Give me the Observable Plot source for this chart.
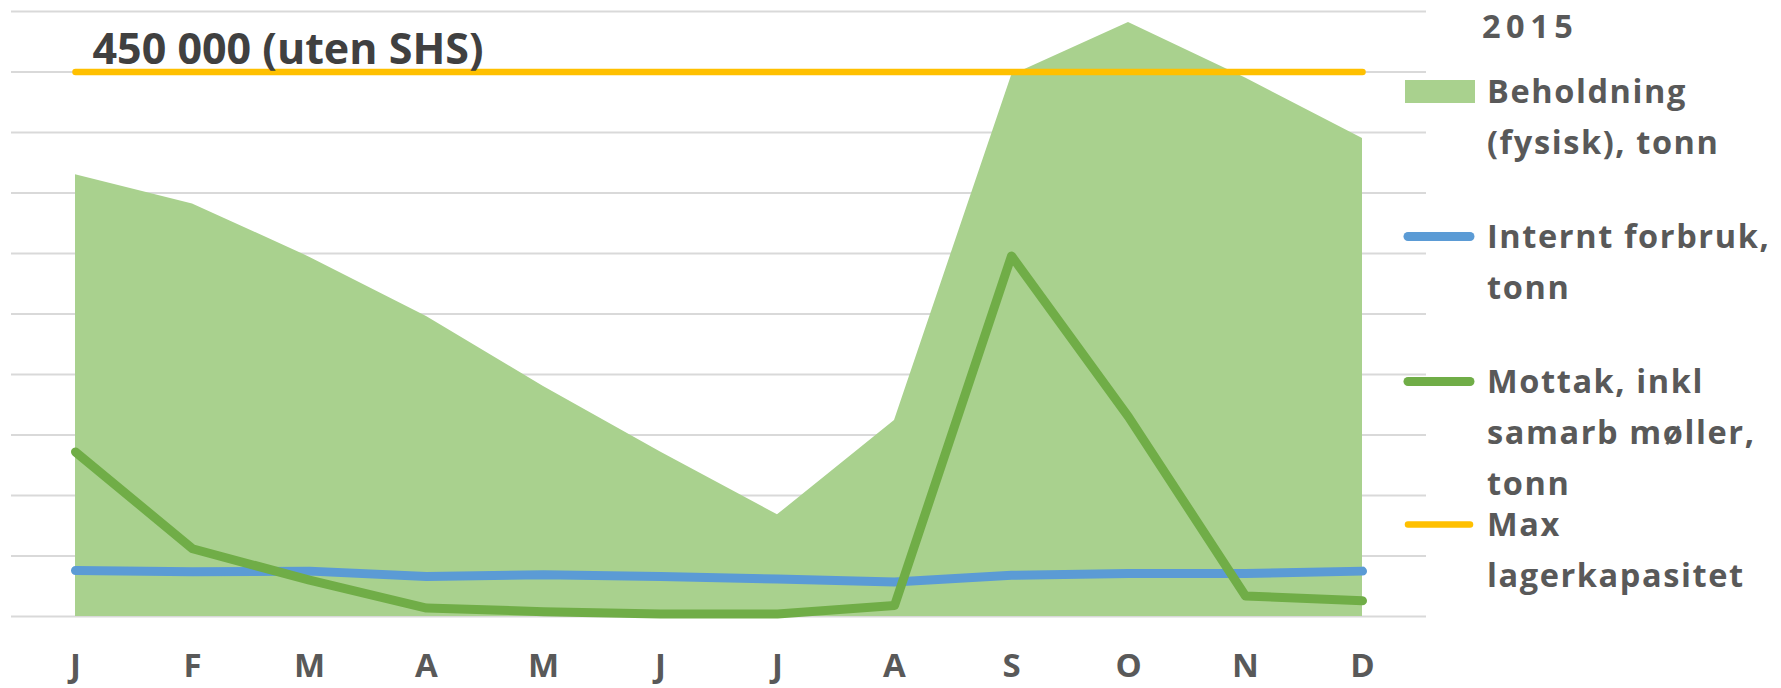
<!DOCTYPE html>
<html><head><meta charset="utf-8">
<script src="https://cdn.jsdelivr.net/npm/d3@7"></script>
<script src="https://cdn.jsdelivr.net/npm/@observablehq/plot@0.6"></script>
<style>
html,body{margin:0;padding:0;background:#fff;}
#wrap{position:relative;width:1781px;height:688px;overflow:hidden;background:#fff;}
#legend{position:absolute;left:0;top:0;pointer-events:none;}
</style></head><body><div id="wrap"></div>
<script>
// ---- data ----
const months = ["J","F","M","A","M","J","J","A","S","O","N","D"];
const beholdning = [365000, 341000, 297000, 248000, 190000, 136000, 84000, 162000, 447000, 491000, 445000, 395000];
const internt    = [38000, 37000, 37500, 33000, 34500, 33000, 31000, 28500, 34000, 35500, 35500, 37500];
const mottak     = [136000, 56000, 30000, 7000, 4000, 2000, 2000, 9000, 298000, 165000, 17000, 13000];
const maxLager   = [450000, 450000, 450000, 450000, 450000, 450000, 450000, 450000, 450000, 450000, 450000, 450000];
const gridTicks  = [0, 50000, 100000, 150000, 200000, 250000, 300000, 350000, 400000, 450000, 500000];
const legendTitle = "2015";
const seriesLabels = [
  ["Beholdning", "(fysisk), tonn"],
  ["Internt forbruk,", "tonn"],
  ["Mottak, inkl", "samarb møller,", "tonn"],
  ["Max", "lagerkapasitet"]
];
const maxLabel = "450 000 (uten SHS)";

// ---- styles ----
const C = {area:"#A9D18E", blue:"#5B9BD5", green:"#70AD47", orange:"#FFC000", grid:"#D9D9D9", text:"#595959", dark:"#404040"};
const FONT = "'Open Sans', 'Liberation Sans', sans-serif";

const data = months.map((m, i) => ({i, m, beholdning: beholdning[i], internt: internt[i], mottak: mottak[i], maxLager: maxLager[i]}));

const chart = Plot.plot({
  width: 1781, height: 688,
  marginLeft: 11, marginRight: 355, marginTop: 11, marginBottom: 72,
  style: {fontFamily: FONT, fontSize: "33px", fontWeight: 700, color: C.text, background: "#fff"},
  x: {type: "point", domain: months.map((_, i) => i), padding: 0.5, axis: null},
  y: {domain: [0, 500000], axis: null},
  marks: [
    Plot.ruleY(gridTicks, {stroke: C.grid, strokeWidth: 2}),
    Plot.areaY(data, {x: "i", y: "beholdning", fill: C.area}),
    Plot.lineY(data, {x: "i", y: "internt", stroke: C.blue, strokeWidth: 9, strokeLinecap: "round", strokeLinejoin: "round"}),
    Plot.lineY(data, {x: "i", y: "mottak", stroke: C.green, strokeWidth: 9, strokeLinecap: "round", strokeLinejoin: "round"}),
    Plot.lineY(data, {x: "i", y: "maxLager", stroke: C.orange, strokeWidth: 6.5, strokeLinecap: "round"}),
    Plot.text([{i: 0, v: maxLager[0], t: maxLabel}], {x: "i", y: "v", text: "t", textAnchor: "start", lineAnchor: "bottom", dx: 17, dy: -8, fontSize: 43, fontWeight: 700, fill: C.dark}),
    Plot.axisX({tickSize: 0, tickPadding: 37, tickFormat: i => months[i], label: null, fontSize: 33, fontWeight: 700, fill: C.text})
  ]
});

const wrap = document.getElementById("wrap");
wrap.appendChild(chart);

// ---- legend (overlay at right) ----
const L = {textX: 1487, lineH: 51, starts: [103, 248, 393, 536], fs: 32.5, ls: 1.6};
const svg = d3.select(wrap).append("svg").attr("id", "legend").attr("width", 1781).attr("height", 688)
  .style("font-family", FONT).style("font-weight", 700);
svg.append("text").attr("x", 1482).attr("y", 38).attr("font-size", L.fs).attr("letter-spacing", 5.5).attr("fill", C.text).text(legendTitle);
const kinds = [{type: "rect", color: C.area}, {type: "line", color: C.blue, w: 9}, {type: "line", color: C.green, w: 9}, {type: "line", color: C.orange, w: 6.5}];
seriesLabels.forEach((lines, k) => {
  const base = L.starts[k];
  const cy = base - 11.5;
  const kd = kinds[k];
  if (kd.type === "rect") {
    svg.append("rect").attr("x", 1405).attr("y", cy - 11.5).attr("width", 70).attr("height", 23).attr("fill", kd.color);
  } else {
    svg.append("line").attr("x1", 1408).attr("x2", 1470).attr("y1", cy).attr("y2", cy)
      .attr("stroke", kd.color).attr("stroke-width", kd.w).attr("stroke-linecap", "round");
  }
  lines.forEach((s, j) => {
    svg.append("text").attr("x", L.textX).attr("y", base + j * L.lineH).attr("font-size", L.fs)
      .attr("letter-spacing", L.ls).attr("fill", C.text).text(s);
  });
});
</script></body></html>
